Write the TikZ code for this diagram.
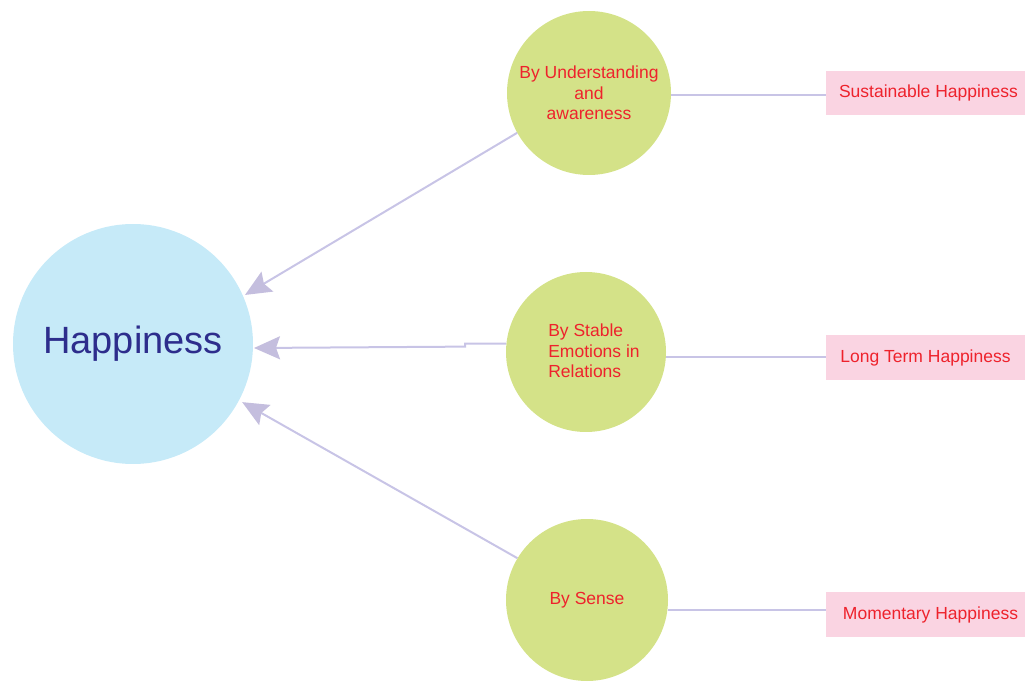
\documentclass[tikz,border=0pt]{standalone}
\usepackage{fontspec}
\setmainfont{Liberation Sans}
\usetikzlibrary{arrows.meta}
\definecolor{hapblue}{RGB}{198,234,248}
\definecolor{hapnavy}{RGB}{45,45,140}
\definecolor{leafgreen}{RGB}{212,226,136}
\definecolor{boxpink}{RGB}{250,212,226}
\definecolor{txtred}{RGB}{238,34,44}
\definecolor{lav}{RGB}{200,196,230}
\definecolor{lavhead}{RGB}{196,190,222}
\tikzset{
  hapcirc/.style={circle, fill=hapblue, inner sep=0pt, minimum size=240pt,
    text=hapnavy, font=\fontsize{38}{42}\selectfont},
  leaf/.style={circle, fill=leafgreen, inner sep=0pt, text=txtred,
    font=\fontsize{17.5}{20.5}\selectfont},
  kindbox/.style={rectangle, fill=boxpink, inner sep=0pt, minimum width=199pt,
    minimum height=44pt, text=txtred, font=\fontsize{17.5}{20}\selectfont},
  conn/.style={draw=lav, line width=2pt},
  arr/.style={conn, -{Stealth[length=26pt,width=23pt,inset=4pt,fill=lavhead,color=lavhead]}},
}
\begin{document}
\begin{tikzpicture}[x=1pt,y=1pt]
\useasboundingbox (0,0) rectangle (1026,681);
\node[hapcirc] (hap) at (133,337) {Happiness};
\node[leaf, minimum size=164pt, align=center] (top) at (589,588) {By Understanding\\and\\awareness};
\node[leaf, minimum size=160pt] (mid) at (586,329) {};
\node[text=txtred, font=\fontsize{17.5}{20.5}\selectfont, align=left] (midtxt) at (594,330) {By Stable\\Emotions in\\Relations};
\node[leaf, minimum size=162pt] (bot) at (587,81) {By Sense};
\node[kindbox] (sus) at (925.5,588) {\hspace*{6pt}Sustainable Happiness};
\node[kindbox, minimum height=45pt] (lt) at (925.5,323.5) {Long Term Happiness};
\node[kindbox, minimum height=45pt] (mom) at (925.5,66.5) {\hspace*{10pt}Momentary Happiness};
\coordinate (t1) at ([shift={(23.7:124.5)}]131,336);
\coordinate (t2) at (254,333);
\coordinate (t3) at ([shift={(-27.2:125)}]131,336);
\draw[arr] (top.209) -- (t1);
\draw[arr] (mid.174) -- ++(-41,0) -- ++(0,-3) -- (t2);
\draw[arr] (bot.149) -- (t3);
\draw[conn] ([yshift=-2pt]top.east) -- ([yshift=-2pt]top.east -| sus.west);
\draw[conn] (mid.east |- lt.west) -- (lt.west);
\draw[conn] (bot.-7) -- (bot.-7 -| mom.west);
\end{tikzpicture}
\end{document}
